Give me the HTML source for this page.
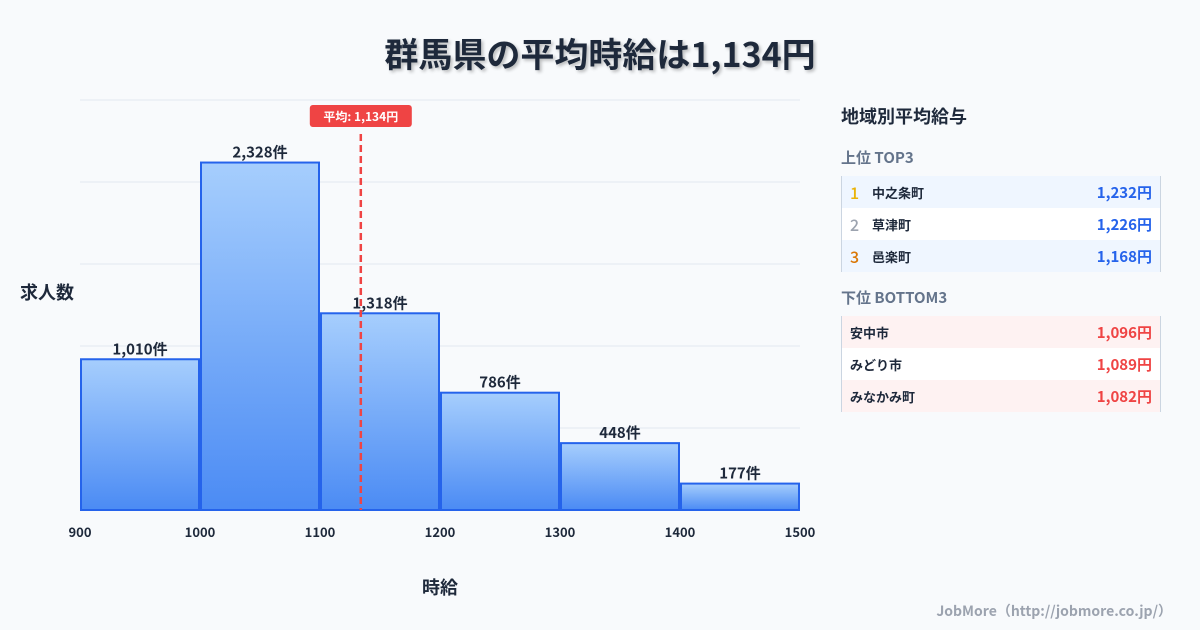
<!DOCTYPE html>
<html><head><meta charset="utf-8"><style>
body{margin:0;width:1200px;height:630px;background:#f8fafc;font-family:"Noto Sans CJK JP","Liberation Sans",sans-serif;position:relative;overflow:hidden;color:#1e293b}
.abs{position:absolute}
.title{left:0;width:1200px;top:28px;text-align:center;font-size:34px;font-weight:bold;color:#1e293b;text-shadow:2px 2px 3px rgba(0,0,0,.25);line-height:50px}
.tbl{position:absolute;left:841px;width:318px;border-left:1px solid #cbd5e1;border-right:1px solid #cbd5e1}
.row{height:32px;display:flex;align-items:center;font-size:13px;font-weight:bold;padding:0 8px;box-sizing:border-box}
.row .v{margin-left:auto;font-size:15px}
.rk{font-size:16px;width:22px;font-weight:500}
</style></head><body>
<div class="abs title">群馬県の平均時給は1,134円</div>
<svg class="abs" style="left:0;top:0;font-family:'Noto Sans CJK JP','Liberation Sans',sans-serif" width="820" height="630">
<defs><linearGradient id="g" x1="0" y1="0" x2="0" y2="1"><stop offset="0" stop-color="#a6cefd"/><stop offset="1" stop-color="#4b8bf4"/></linearGradient></defs>
<g id="grid"></g><g id="bars"></g><g id="xt"></g><g id="mean"></g>
<text x="20" y="299" font-size="18" font-weight="bold" fill="#1e293b">求人数</text>
<text x="440" y="594" font-size="18" font-weight="bold" fill="#1e293b" text-anchor="middle">時給</text>
</svg>
<div class="abs" style="left:841px;top:103px;font-size:18px;font-weight:bold;line-height:26px">地域別平均給与</div>
<div class="abs" style="left:841px;top:147px;font-size:15px;font-weight:bold;color:#64748b;line-height:22px">上位 TOP3</div>
<div class="tbl" style="top:176px">
<div class="row" style="background:#eff6ff"><span class="rk" style="color:#eab308">1</span>中之条町<span class="v" style="color:#2563eb">1,232円</span></div>
<div class="row" style="background:#fff"><span class="rk" style="color:#9ca3af">2</span>草津町<span class="v" style="color:#2563eb">1,226円</span></div>
<div class="row" style="background:#eff6ff"><span class="rk" style="color:#d97706">3</span>邑楽町<span class="v" style="color:#2563eb">1,168円</span></div>
</div>
<div class="abs" style="left:841px;top:287px;font-size:15px;font-weight:bold;color:#64748b;line-height:22px">下位 BOTTOM3</div>
<div class="tbl" style="top:316px">
<div class="row" style="background:#fef2f2">安中市<span class="v" style="color:#ef4444">1,096円</span></div>
<div class="row" style="background:#fff">みどり市<span class="v" style="color:#ef4444">1,089円</span></div>
<div class="row" style="background:#fef2f2">みなかみ町<span class="v" style="color:#ef4444">1,082円</span></div>
</div>
<div class="abs" style="right:28px;top:600px;font-size:14px;font-weight:bold;color:#9ca3af;line-height:22px">JobMore（http://jobmore.co.jp/）</div>
<script>
const binStarts=[900,1000,1100,1200,1300,1400];
const counts=[1010,2328,1318,786,448,177];
const xTicks=[900,1000,1100,1200,1300,1400,1500];
const meanValue=1134;
const NS="http://www.w3.org/2000/svg";
const X0=80,X1=800,Y0=510,YT=100,xmin=900,xmax=1500;
const ymax=Math.max(...counts)*1.18;
const xs=v=>X0+(v-xmin)/(xmax-xmin)*(X1-X0);
const ys=v=>Y0-v/ymax*(Y0-YT);
function mk(t,a,p){const e=document.createElementNS(NS,t);for(const k in a)e.setAttribute(k,a[k]);p.appendChild(e);return e;}
const grid=document.getElementById('grid');
for(let i=0;i<=5;i++){const y=Y0-(Y0-YT)*i/5;const l=mk('line',{x1:X0,x2:X1,y1:y,y2:y,stroke:'#e2e8f0','stroke-width':1},grid);

}
const bars=document.getElementById('bars');
binStarts.forEach((b,i)=>{const x=xs(b)+1,w=xs(b+100)-xs(b)-2,y=ys(counts[i]);
const r=mk('rect',{x:x,y:y,width:w,height:Y0-y,fill:'url(#g)',stroke:'#2563eb','stroke-width':2},bars);


const t=mk('text',{x:x+w/2,y:y-5,'text-anchor':'middle','font-size':15,'font-weight':'bold',fill:'#1e293b'},bars);
t.textContent=counts[i].toLocaleString('en-US')+'件';

});
const xt=document.getElementById('xt');
xTicks.forEach(v=>{const t=mk('text',{x:xs(v),y:537,'text-anchor':'middle','font-size':13,'font-weight':'bold',fill:'#1e293b'},xt);t.textContent=v;

});
const mg=document.getElementById('mean');const mx=xs(meanValue);
const ml=mk('line',{x1:mx,x2:mx,y1:134,y2:Y0,stroke:'#ef4444','stroke-width':2.5,'stroke-dasharray':'7,4'},mg);


const mr=mk('rect',{x:mx-51,y:105,width:102,height:22,rx:3,fill:'#ef4444'},mg);


const mt=mk('text',{x:mx,y:121,'text-anchor':'middle','font-size':12,'font-weight':'bold',fill:'#fff'},mg);
mt.textContent='平均: '+meanValue.toLocaleString('en-US')+'円';


</script>
</body></html>
